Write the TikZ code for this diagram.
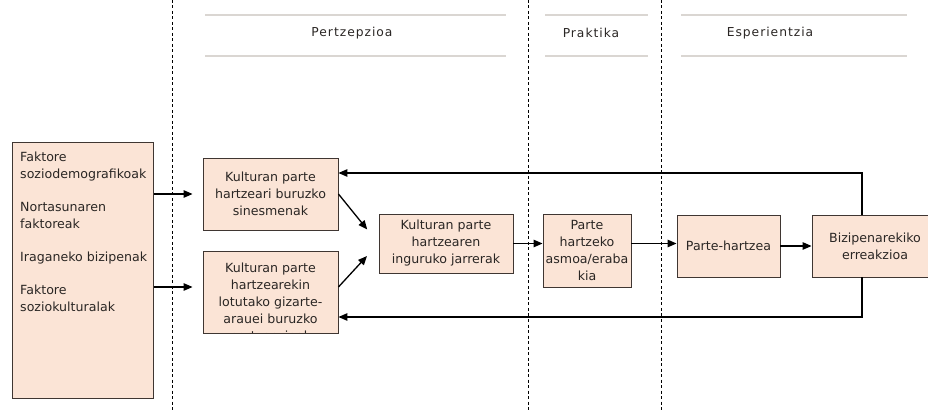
\documentclass[tikz,border=0pt]{standalone}
\usepackage{fontspec}
\setmainfont{DejaVu Sans}
\newfontfamily\headfont[LetterSpace=8]{DejaVu Sans}
\usetikzlibrary{arrows.meta,calc}

\definecolor{boxfill}{HTML}{FBE4D6}
\definecolor{boxline}{HTML}{3F3632}
\definecolor{headgray}{HTML}{DAD6D2}
\definecolor{ink}{HTML}{2A2624}

\tikzset{
  box/.style={draw=boxline, fill=boxfill, line width=0.9pt, inner sep=0pt,
    align=center, text=ink, font=\fontsize{12.6}{17}\selectfont},
  txt/.style={inner sep=0pt, text=ink, font=\fontsize{12.6}{17}\selectfont},
  arr/.style={-{Triangle[length=9pt,width=7.5pt]}, line width=1.3pt},
  divider/.style={line width=0.8pt, dash pattern=on 3pt off 2.5pt},
  headline/.style={draw=headgray, line width=2.5pt},
  headtext/.style={inner sep=0pt, text=ink, font=\headfont\fontsize{12.3}{14}\selectfont}
}

\begin{document}
\begin{tikzpicture}[x=1pt,y=-1pt]
\useasboundingbox (0,0) rectangle (928,411);

% phases
\draw[headline] (205,15) -- (506,15) (205,56) -- (506,56);
\draw[headline] (545,15) -- (648,15) (545,56) -- (648,56);
\draw[headline] (681,15) -- (907,15) (681,56) -- (907,56);
\node[headtext] (perc) at (352,33) {Pertzepzioa};
\node[headtext] (prac) at (591,33) {Praktika};
\node[headtext] (expe) at (770,33) {Esperientzia};

\draw[divider] (172,0) -- (172,411);
\draw[divider] (528,0) -- (528,411);
\draw[divider] (661,0) -- (661,411);

% factors
\node[box, anchor=north west, minimum width=141pt, minimum height=256pt] (src) at (12,142) {};
\node[txt, align=left, anchor=north west] (srctext) at ([shift={(8pt,-10pt)}]src.north west)
  {Faktore\\soziodemografikoak\\[16pt]Nortasunaren\\faktoreak\\[16pt]Iraganeko bizipenak\\[16pt]Faktore\\soziokulturalak};

% boxes
\node[box, minimum width=135pt, minimum height=72pt] (beliefs) at (270.5,194) {Kulturan parte\\hartzeari buruzko\\sinesmenak};
\node[box, minimum width=135pt, minimum height=82pt] (norms) at (270.5,292) {};
\begin{scope}
  \clip ([shift={(0.5pt,0.5pt)}]norms.south west) rectangle ([shift={(-0.5pt,-0.5pt)}]norms.north east);
  \node[txt, align=center, anchor=north] (normstext) at ([yshift=-12pt]norms.north)
    {Kulturan parte\\hartzearekin\\lotutako gizarte-\\arauei buruzko\\pertzepzioak};
\end{scope}
\node[box, minimum width=134pt, minimum height=59pt] (attitudes) at (446,243.5) {Kulturan parte\\hartzearen\\inguruko jarrerak};
\node[box, minimum width=88pt, minimum height=73pt] (intention) at (587,250.5) {Parte\\hartzeko\\asmoa/eraba\\kia};
\node[box, minimum width=103pt, minimum height=62pt] (participation) at (728.5,246) {Parte-hartzea};
\node[box, minimum width=126pt, minimum height=62pt] (reaction) at (875,246) {Bizipenarekiko\\erreakzioa};

% connectors
\coordinate (normsin) at ([yshift=5pt]norms.west);
\draw[arr] (src.east |- beliefs.west) -- ([xshift=-10pt]beliefs.west);
\draw[arr] (src.east |- normsin) -- ([xshift=-10pt]normsin);
\draw[arr, shorten >=18pt] (beliefs.east) -- (attitudes.west);
\draw[arr, shorten >=17pt] (normsin -| norms.east) -- (attitudes.west);
\draw[arr] (attitudes.east) -- (attitudes.east -| intention.west);
\draw[arr] (attitudes.east -| intention.east) -- (attitudes.east -| participation.west);
\draw[arr] (participation.east) -- (participation.east -| reaction.west);
\draw[arr] ([xshift=-13pt]reaction.north) |- ([yshift=21pt]beliefs.east);
\draw[arr] ([xshift=-13pt]reaction.south) |- ([yshift=-25pt]norms.east);
\end{tikzpicture}
\end{document}
